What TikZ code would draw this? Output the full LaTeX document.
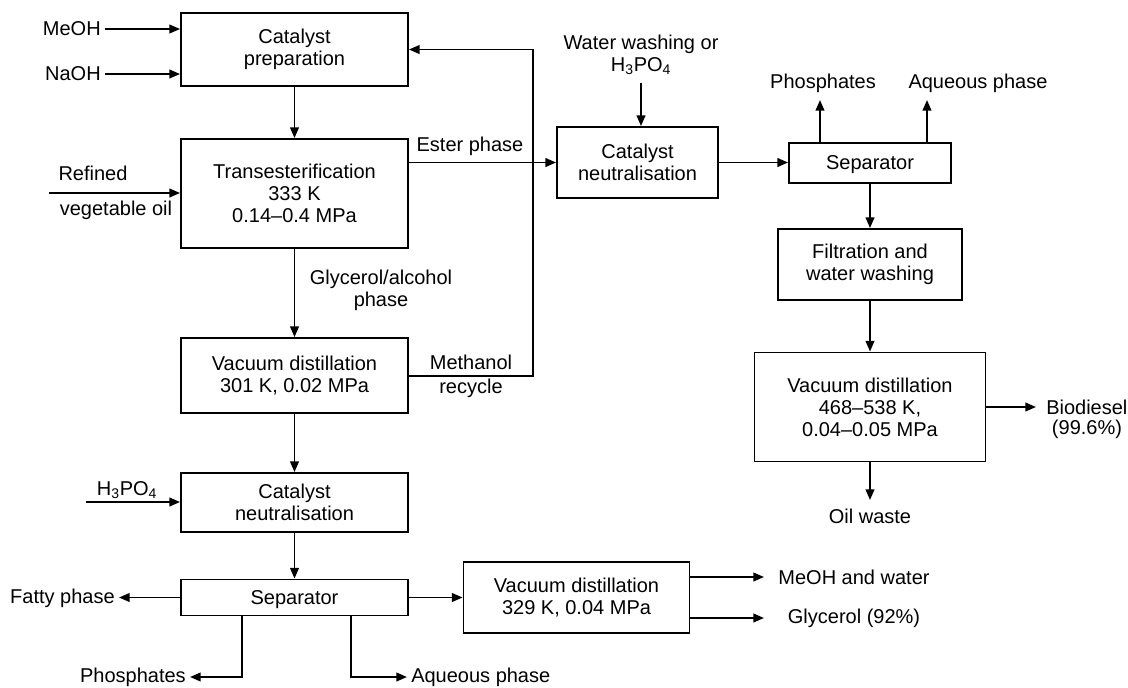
\documentclass[tikz,border=0pt]{standalone}
\usepackage{fontspec}
\setmainfont{Liberation Sans}
\usetikzlibrary{arrows.meta}
\begin{document}
\begin{tikzpicture}[x=0.75pt,y=-0.75pt,
  every node/.style={font=\fontsize{15pt}{16.5pt}\selectfont, text=black},
  pbox/.style={draw, line width=1.4pt, align=center, inner sep=0pt},
  lbl/.style={align=center, inner sep=3pt},
  flow/.style={line width=1.4pt, -{Triangle[length=8pt,width=6.5pt]}}]
\useasboundingbox (0,0) rectangle (1128,687);
\fill[white] (0,0) rectangle (1128,687);

% process boxes
\node[pbox, minimum width={227*0.75pt}, minimum height={73*0.75pt}] (catprep) at (294.5,49.5) {Catalyst\\preparation};
\node[pbox, minimum width={227*0.75pt}, minimum height={109*0.75pt}] (trans) at (294.5,193.5) {Transesterification\\333 K\\0.14–0.4 MPa};
\node[pbox, minimum width={227*0.75pt}, minimum height={75*0.75pt}] (vac1) at (294.5,375.5) {Vacuum distillation\\301 K, 0.02 MPa};
\node[pbox, minimum width={227*0.75pt}, minimum height={59*0.75pt}] (neut2) at (294.5,502.5) {Catalyst\\neutralisation};
\node[pbox, minimum width={227*0.75pt}, minimum height={36*0.75pt}, text depth=0pt] (sep2) at (294.5,597.5) {Separator};
\node[pbox, minimum width={226*0.75pt}, minimum height={71*0.75pt}] (vac3) at (576.5,597.5) {Vacuum distillation\\329 K, 0.04 MPa};
\node[pbox, minimum width={161*0.75pt}, minimum height={71*0.75pt}] (neut1) at (637.5,162.5) {Catalyst\\neutralisation};
\node[pbox, minimum width={162*0.75pt}, minimum height={40*0.75pt}, text depth=0pt] (sep1) at (870,163) {Separator};
\node[pbox, minimum width={184*0.75pt}, minimum height={71*0.75pt}] (filt) at (870,264.5) {Filtration and\\water washing};
\node[pbox, minimum width={231*0.75pt}, minimum height={109*0.75pt}] (vac2) at (870,407) {Vacuum distillation\\468–538 K,\\0.04–0.05 MPa};

% labels
\node[lbl, anchor=east] (meoh) at (105,29) {MeOH};
\node[lbl, anchor=east] (naoh) at (105,74) {NaOH};
\node[lbl] (refined) at (93,173) {Refined};
\node[lbl] (vegoil) at (116,210) {vegetable oil};
\node[lbl] (ester) at (470,146) {Ester phase};
\node[lbl] (glylbl) at (381,290) {Glycerol/alcohol\\phase};
\node[lbl] (methlbl) at (471,362) {Methanol};
\node[lbl] (reclbl) at (471,388) {recycle};
\node[lbl] (h3po4b) at (127,490) {H\textsubscript{3}PO\textsubscript{4}};
\node[lbl, anchor=east] (fatty) at (119,598) {Fatty phase};
\node[lbl, anchor=east] (phos2) at (190,677) {Phosphates};
\node[lbl, anchor=west] (aq2) at (407,677) {Aqueous phase};
\node[lbl] (mw) at (854,577) {MeOH and water};
\node[lbl] (gly) at (854,618) {Glycerol (92\%)};
\node[lbl] (wash) at (641,55) {Water washing or\\H\textsubscript{3}PO\textsubscript{4}};
\node[lbl] (phos1) at (823,83) {Phosphates};
\node[lbl] (aq1) at (978,83) {Aqueous phase};
\node[lbl, anchor=west] (bio) at (1042,407) {Biodiesel};
\node[lbl] (biopct) at (1087,429) {(99.6\%)};
\node[lbl] (oil) at (870,516) {Oil waste};

% free ends
\coordinate (oilin) at (49,193);
\coordinate (rc) at (533,376);
\coordinate (acidin) at (86,502);
\coordinate (pdrop) at (242,0);
\coordinate (adrop) at (351,0);
\coordinate (mwtip) at (764,577);
\coordinate (glytip) at (764,618);
\coordinate (washin) at (641,83);
\coordinate (p1tip) at (820,100);
\coordinate (a1tip) at (927,100);
\coordinate (biotip) at (1036,407);
\coordinate (oiltip) at (870,500);

% connectors
\draw[flow] (meoh.east) -- (meoh.east -| catprep.west);
\draw[flow] (naoh.east) -- (naoh.east -| catprep.west);
\draw[flow] (catprep.south) -- (trans.north);
\draw[flow] (oilin) -- (oilin -| trans.west);
\draw[flow] (trans.east |- neut1.west) -- (neut1.west);
\draw[flow] (vac1.east |- rc) -- (rc) |- (catprep.east);
\draw[flow] (trans.south) -- (vac1.north);
\draw[flow] (vac1.south) -- (neut2.north);
\draw[flow] (acidin) -- (acidin -| neut2.west);
\draw[flow] (neut2.south) -- (sep2.north);
\draw[flow] (sep2.west) -- (sep2.west -| fatty.east);
\draw[flow] (sep2.east) -- (sep2.east -| vac3.west);
\draw[flow] (sep2.south -| pdrop) |- (phos2.east);
\draw[flow] (sep2.south -| adrop) |- (aq2.west);
\draw[flow] (vac3.east |- mwtip) -- (mwtip);
\draw[flow] (vac3.east |- glytip) -- (glytip);
\draw[flow] (washin) -- (washin |- neut1.north);
\draw[flow] (neut1.east) -- (neut1.east -| sep1.west);
\draw[flow] (sep1.north -| p1tip) -- (p1tip);
\draw[flow] (sep1.north -| a1tip) -- (a1tip);
\draw[flow] (sep1.south) -- (filt.north);
\draw[flow] (filt.south) -- (vac2.north);
\draw[flow] (vac2.east |- biotip) -- (biotip);
\draw[flow] (vac2.south) -- (oiltip);
\end{tikzpicture}
\end{document}
